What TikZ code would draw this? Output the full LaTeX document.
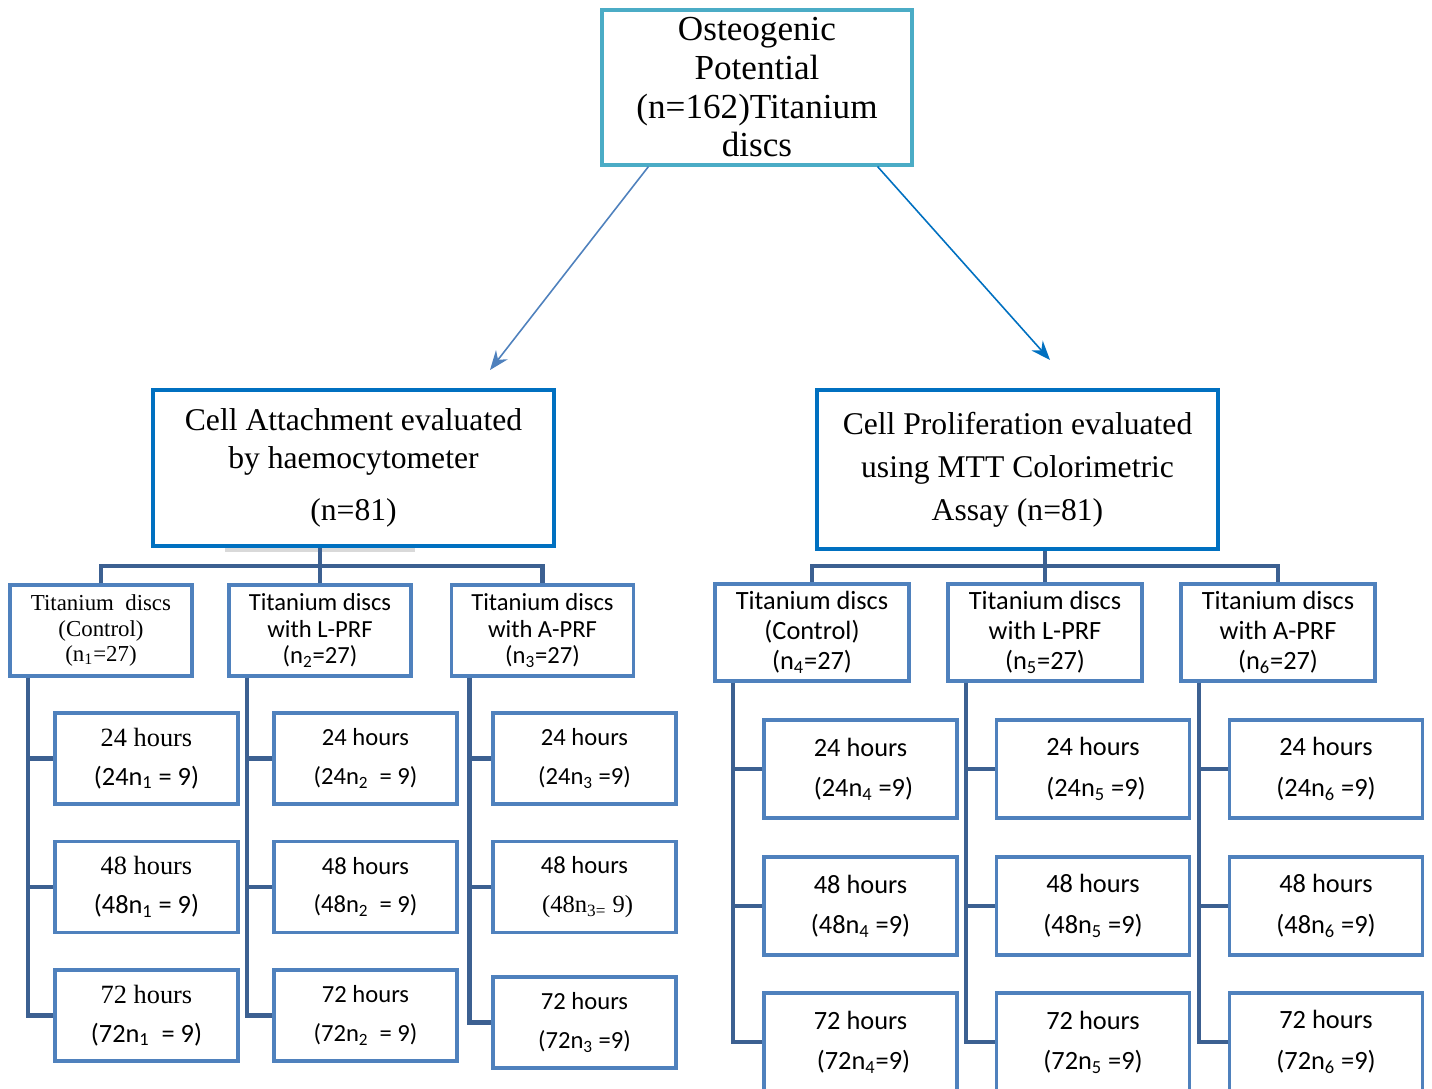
\documentclass[tikz,border=0pt]{standalone}
\usepackage{fontspec}
\setmainfont{Carlito}
\newfontfamily\tnr{Liberation Serif}
\usetikzlibrary{arrows.meta}

\definecolor{topcyan}{RGB}{75,172,198}
\definecolor{midblue}{RGB}{0,112,192}
\definecolor{boxblue}{RGB}{79,129,189}
\definecolor{linkblue}{RGB}{60,96,145}

\tikzset{
  topbox/.style={draw=topcyan, line width=1.8pt, align=center, inner sep=0pt,
    minimum width=6.2cm, minimum height=3.1cm, font=\tnr\fontsize{20}{22}\selectfont},
  midbox/.style={draw=midblue, line width=1.8pt, align=center, inner sep=0pt,
    minimum width=8.02cm, font=\tnr\fontsize{18}{21.5}\selectfont},
  groupL/.style={draw=boxblue, line width=2.2pt, align=center, inner sep=0pt,
    minimum width=3.64cm, minimum height=1.82cm, font=\fontsize{14}{15}\selectfont},
  groupR/.style={draw=boxblue, line width=2.2pt, align=center, inner sep=0pt,
    minimum width=3.88cm, minimum height=1.94cm, font=\fontsize{15}{17}\selectfont},
  hourL/.style={draw=boxblue, line width=2.2pt, align=center, inner sep=0pt,
    minimum width=3.66cm, minimum height=1.82cm, font=\fontsize{14}{22}\selectfont},
  hourR/.style={draw=boxblue, line width=2.2pt, align=center, inner sep=0pt,
    minimum width=3.86cm, minimum height=1.96cm, font=\fontsize{15}{23}\selectfont},
  link/.style={draw=linkblue, line width=2.5pt},
  downarrow/.style={line width=0.9pt, -{Stealth[length=11pt, width=8.5pt]}}
}

\begin{document}
\begin{tikzpicture}[x=0.02cm, y=-0.02cm]
			\useasboundingbox (0,0) rectangle (1432,1088);
			% top and the two studies
			\node[topbox] (top) at (757,87.5) {Osteogenic\\ Potential\\ (n=162)Titanium\\ discs};
			\fill[black!15] (225,547) rectangle (415,552);
			\node[midbox, minimum height=3.12cm] (attach) at (353.5,468)
				{Cell Attachment evaluated\\ by haemocytometer\\[8pt] (n=81)};
			\node[midbox, minimum height=3.18cm, font=\tnr\fontsize{18}{24.4}\selectfont] (prolif) at (1017.5,469.5)
				{Cell Proliferation evaluated\\ using MTT Colorimetric\\ Assay (n=81)};
			\coordinate (la) at (490,370);
			\coordinate (ra) at (1050,360);
			\draw[downarrow, boxblue] (top.south west) ++(48,0) -- (la);
			\draw[downarrow, midblue] (top.south east) ++(-36,0) -- (ra);
			% groups
			\node[groupL, font=\tnr\fontsize{13}{14.5}\selectfont] (g1) at (101,630.5)
				{Titanium\ \ discs\\ (Control)\\ (n\textsubscript{1}=27)};
			\node[groupL] (g2) at (320,630.5) {Titanium discs\\ with L-PRF\\ (n\textsubscript{2}=27)};
			\node[groupL] (g3) at (542.5,630.5) {Titanium discs\\ with A-PRF\\ (n\textsubscript{3}=27)};
			\node[groupR] (g4) at (812,632.5) {Titanium discs\\ (Control)\\ (n\textsubscript{4}=27)};
			\node[groupR] (g5) at (1045,632.5) {Titanium discs\\ with L-PRF\\ (n\textsubscript{5}=27)};
			\node[groupR] (g6) at (1278,632.5) {Titanium discs\\ with A-PRF\\ (n\textsubscript{6}=27)};
			% hours, left
			\node[hourL] (h11) at (146.5,758.5) {{\tnr\fontsize{15}{22}\selectfont 24 hours}\\ \fontsize{15}{22}\selectfont(24n\textsubscript{1} = 9)};
			\node[hourL] (h12) at (146.5,887) {{\tnr\fontsize{15}{22}\selectfont 48 hours}\\ \fontsize{15}{22}\selectfont(48n\textsubscript{1} = 9)};
			\node[hourL] (h13) at (146.5,1015.5) {{\tnr\fontsize{15}{22}\selectfont 72 hours}\\ \fontsize{15}{22}\selectfont(72n\textsubscript{1}\ \ = 9)};
			\node[hourL] (h21) at (365.5,758.5) {24 hours\\ (24n\textsubscript{2}\ \ = 9)};
			\node[hourL] (h22) at (365.5,887) {48 hours\\ (48n\textsubscript{2}\ \ = 9)};
			\node[hourL] (h23) at (365.5,1015.5) {72 hours\\ (72n\textsubscript{2}\ \ = 9)};
			\node[hourL] (h31) at (584.5,758.5) {24 hours\\ (24n\textsubscript{3} =9)};
			\node[hourL] (h32) at (584.5,887) {48 hours\\ {\tnr\ (48n\textsubscript{3=} 9)}};
			\node[hourL] (h33) at (584.5,1022.5) {72 hours\\ (72n\textsubscript{3} =9)};
			% hours, right
			\node[hourR] (h41) at (860.5,769) {24 hours\\ \ (24n\textsubscript{4} =9)};
			\node[hourR] (h42) at (860.5,906) {48 hours\\ (48n\textsubscript{4} =9)};
			\node[hourR] (h43) at (860.5,1042) {72 hours\\ \ (72n\textsubscript{4}=9)};
			\node[hourR] (h51) at (1093,769) {24 hours\\ \ (24n\textsubscript{5} =9)};
			\node[hourR] (h52) at (1093,906) {48 hours\\ (48n\textsubscript{5} =9)};
			\node[hourR] (h53) at (1093,1042) {72 hours\\ (72n\textsubscript{5} =9)};
			\node[hourR] (h61) at (1326,769) {24 hours\\ (24n\textsubscript{6} =9)};
			\node[hourR] (h62) at (1326,906) {48 hours\\ (48n\textsubscript{6} =9)};
			\node[hourR] (h63) at (1326,1042) {72 hours\\ (72n\textsubscript{6} =9)};
			% tree lines
			\coordinate (lbar) at (320,566);
			\coordinate (rbar) at (1045,566);
			\draw[link] (g2.north) -- (attach.south -| g2.north);
			\draw[link] (g1.north) |- (lbar) -| (g3.north);
			\draw[link] (g5.north) -- (prolif.south -| g5.north);
			\draw[link] (g4.north) |- (rbar) -| (g6.north);
			\foreach \c in {1,...,6}
				\foreach \r in {1,2,3}
					\draw[link] (g\c.south west) ++(20,0) |- (h\c\r.west);
		\end{tikzpicture}
\end{document}
